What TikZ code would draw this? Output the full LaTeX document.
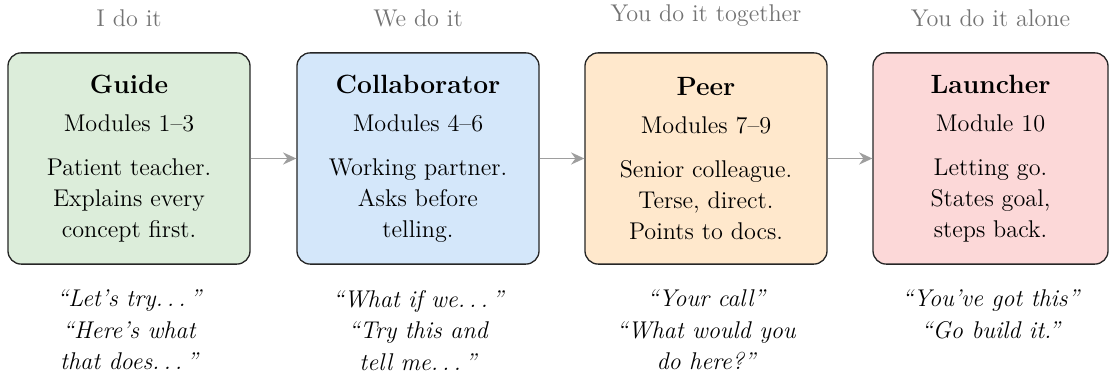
\documentclass[tikz,border=0pt]{standalone}
\usepackage{fontspec}
\usetikzlibrary{arrows.meta,positioning}
\definecolor{gfill}{RGB}{220,237,218}
\definecolor{bfill}{RGB}{212,231,250}
\definecolor{ofill}{RGB}{255,232,204}
\definecolor{rfill}{RGB}{252,216,216}
\newcommand{\ttl}[1]{{\fontsize{12}{14}\selectfont\bfseries #1}}
\newcommand{\ddd}{.\kern.17em.\kern.17em.\kern.17em}
\begin{document}
\begin{tikzpicture}[x=0.4545pt,y=-0.4545pt,
  box/.style={draw=black!85, line width=0.6pt, rounded corners=6pt,
    minimum width=110pt, minimum height=96pt, align=center,
    font=\fontsize{11}{14}\selectfont, inner sep=0pt},
  phase/.style={text=black!55, font=\fontsize{11}{13.6}\selectfont},
  saying/.style={align=center, font=\fontsize{11}{14.3}\selectfont\itshape},
  flow/.style={draw=black!38, line width=0.9pt, -{Stealth[length=6pt,width=5.5pt]}},
  node distance=8pt]
\useasboundingbox (0,0) rectangle (1110,380);

\node[box, fill=gfill] (b1) at (129,158.5)
  {\ttl{Guide}\\[3.3pt] Modules 1--3\\[6pt] Patient teacher.\\ Explains every\\ concept first.};
\node[box, fill=bfill] (b2) at (418,158.5)
  {\ttl{Collaborator}\\[3.3pt] Modules 4--6\\[6pt] Working partner.\\ Asks before\\ telling.};
\node[box, fill=ofill] (b3) at (706,158.5)
  {\ttl{Peer}\\[3.3pt] Modules 7--9\\[6pt] Senior colleague.\\ Terse, direct.\\ Points to docs.};
\node[box, fill=rfill, minimum width=106.8pt] (b4) at (990.5,158.5)
  {\ttl{Launcher}\\[3.3pt] Module 10\\[6pt] Letting go.\\ States goal,\\ steps back.};

\node[phase, above=of b1] (p1) {I do it};
\node[phase, above=of b2] (p2) {We do it};
\node[phase, above=of b3] (p3) {You do it together};
\node[phase, above=of b4] (p4) {You do it alone};

\node[saying, below=of b1] (q1) {``Let's try\ddd''\\ ``Here's what\\ that does\ddd''};
\node[saying, below=of b2] (q2) {``What if we\ddd''\\ ``Try this and\\ tell me\ddd''};
\node[saying, below=of b3] (q3) {``Your call''\\ ``What would you\\ do here?''};
\node[saying, below=of b4] (q4) {``You've got this''\\ ``Go build it.''};

\draw[flow] (b1) -- (b2);
\draw[flow] (b2) -- (b3);
\draw[flow] (b3) -- (b4);
\end{tikzpicture}
\end{document}
